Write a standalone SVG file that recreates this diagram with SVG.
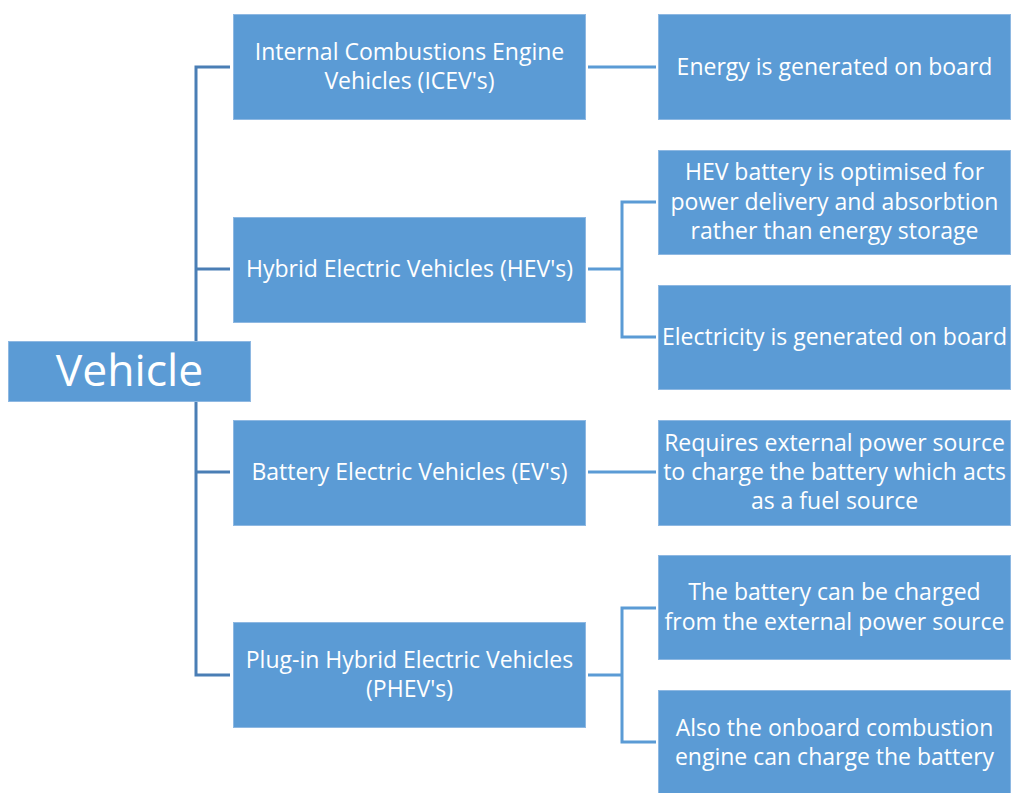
<svg xmlns="http://www.w3.org/2000/svg" width="1013" height="793" viewBox="0 0 1013 793">
<style>
.box{fill:#5B9BD5;stroke:#8EB8E2;stroke-width:1}
.t{font-family:"Open Sans","Liberation Sans",sans-serif;font-size:23px;fill:#FFFFFF;text-anchor:middle}
.big{font-size:44.5px}
.cl{fill:none;stroke:#4A7EB5;stroke-width:3}
.cr{fill:none;stroke:#5B9BD5;stroke-width:3}
</style>
<rect width="1013" height="793" fill="#FFFFFF"/>
<g id="connectors">
<path class="cl" d="M230,67 H196 V675 H230 M196,269 H230 M196,472 H230"/>
<path class="cr" d="M588,67 H656"/>
<path class="cr" d="M588,269 H622 M656,202 H622 V337 H656"/>
<path class="cr" d="M588,472 H656"/>
<path class="cr" d="M588,675 H622 M656,608 H622 V742 H656"/>
</g>
<g id="vehicle"><rect class="box" x="8.5" y="341.5" width="242" height="60"/><text class="t big" x="129.5" y="386">Vehicle</text></g>
<g id="icev"><rect class="box" x="233.5" y="14.5" width="352" height="105"/><text class="t" x="409.5" y="60">Internal Combustions Engine</text><text class="t" x="409.5" y="89">Vehicles (ICEV's)</text></g>
<g id="hev"><rect class="box" x="233.5" y="217.5" width="352" height="105"/><text class="t" x="409.5" y="277">Hybrid Electric Vehicles (HEV's)</text></g>
<g id="ev"><rect class="box" x="233.5" y="420.5" width="352" height="105"/><text class="t" x="409.5" y="480">Battery Electric Vehicles (EV's)</text></g>
<g id="phev"><rect class="box" x="233.5" y="622.5" width="352" height="105"/><text class="t" x="409.5" y="668">Plug-in Hybrid Electric Vehicles</text><text class="t" x="409.5" y="697">(PHEV's)</text></g>
<g id="energy"><rect class="box" x="658.5" y="14.5" width="352" height="105"/><text class="t" x="834.5" y="75">Energy is generated on board</text></g>
<g id="hevbat"><rect class="box" x="658.5" y="150.5" width="352" height="104"/><text class="t" x="834.5" y="180">HEV battery is optimised for</text><text class="t" x="834.5" y="210">power delivery and absorbtion</text><text class="t" x="834.5" y="239">rather than energy storage</text></g>
<g id="elec"><rect class="box" x="658.5" y="285.5" width="352" height="104"/><text class="t" x="834.5" y="345">Electricity is generated on board</text></g>
<g id="requires"><rect class="box" x="658.5" y="420.5" width="352" height="105"/><text class="t" x="834.5" y="451">Requires external power source</text><text class="t" x="834.5" y="480">to charge the battery which acts</text><text class="t" x="834.5" y="509">as a fuel source</text></g>
<g id="charged"><rect class="box" x="658.5" y="555.5" width="352" height="104"/><text class="t" x="834.5" y="600">The battery can be charged</text><text class="t" x="834.5" y="630">from the external power source</text></g>
<g id="onboard"><rect class="box" x="658.5" y="690.5" width="352" height="103"/><text class="t" x="834.5" y="736">Also the onboard combustion</text><text class="t" x="834.5" y="765">engine can charge the battery</text></g>
</svg>
